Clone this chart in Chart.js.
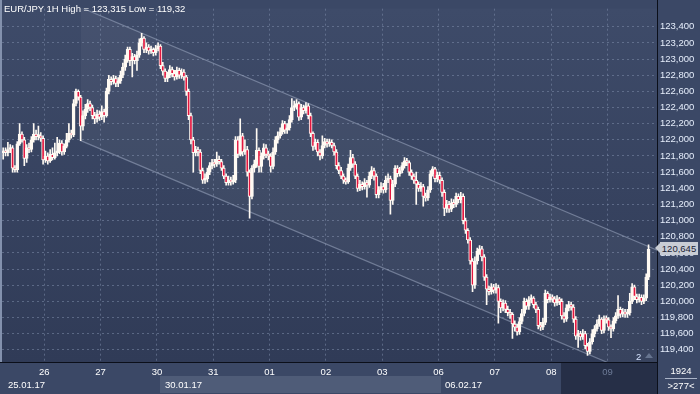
<!DOCTYPE html>
<html><head><meta charset="utf-8">
<script src="https://cdn.jsdelivr.net/npm/chart.js@4.4.0/dist/chart.umd.min.js"></script>
<style>
html,body{margin:0;padding:0;background:#3b4866;}
#wrap{position:relative;width:700px;height:394px;overflow:hidden;font-family:"Liberation Sans",Arial,sans-serif;}
#c{position:absolute;left:0;top:0;}
.t{position:absolute;color:#ffffff;font-size:9.5px;line-height:12px;white-space:nowrap;}
#tag{position:absolute;left:660px;width:38px;height:13px;background:#c9cdd5;color:#1c2336;font-size:9.5px;line-height:13px;text-align:center;}
#tag:before{content:"";position:absolute;left:-5px;top:1px;border-top:5.5px solid transparent;border-bottom:5.5px solid transparent;border-right:5px solid #c9cdd5;}
#tri{position:absolute;left:645px;top:353px;width:0;height:0;border-left:4px solid transparent;border-right:4px solid transparent;border-bottom:5px solid #66748f;}
</style></head><body>
<div id="wrap">
<canvas id="c" width="700" height="394"></canvas>
<div class="t" style="left:4px;top:3px">EUR/JPY 1H High = 123,315 Low = 119,32</div>
<div class="t" id="w0" style="left:8px;top:379px">25.01.17</div>
<div class="t" id="w1" style="left:165px;top:379px">30.01.17</div>
<div class="t" id="w2" style="left:445px;top:379px">06.02.17</div>
<div class="t" style="left:666px;top:365px;width:30px;text-align:center">1924</div>
<div style="position:absolute;left:665px;top:378px;width:32px;height:1px;background:#aab4c8"></div>
<div class="t" style="left:664px;top:380px;width:34px;text-align:center">&gt;277&lt;</div>
<div class="t" style="left:636px;top:351px;color:#d7e4ff">2</div>
<div id="tri"></div>
<div id="tag">120,645</div>
</div>
<script>
const dayTicks = [17.5,41.5,65.5,89.5,113.5,137.5,161.5,185.5,209.5,233.5,257.5];
const dayLabels = ['26','27','30','31','01','02','03','06','07','08','09'];
const yTicks = [119.4,119.6,119.8,120.0,120.2,120.4,120.6,120.8,121.0,121.2,121.4,121.6,121.8,122.0,122.2,122.4,122.6,122.8,123.0,123.2,123.4];
const lastPrice = 120.645;

const open = [
121.84,121.86,121.84,121.88,121.90,121.65,121.63,121.95,122.07,122.00,
121.77,121.90,121.88,122.00,122.07,122.04,122.05,122.02,121.75,121.80,
121.74,121.82,121.78,121.84,121.86,121.96,121.85,121.92,122.00,122.08,
122.06,122.45,122.60,122.53,122.17,122.30,122.38,122.45,122.40,122.30,
122.26,122.32,122.28,122.35,122.30,122.60,122.75,122.72,122.76,122.70,
122.73,122.80,122.90,123.00,123.12,122.98,123.03,122.98,123.05,123.20,
123.26,123.12,123.15,123.10,123.12,123.08,123.13,123.16,122.92,122.85,
122.76,122.80,122.87,122.82,122.78,122.86,122.80,122.84,122.78,122.60,
122.30,122.00,121.84,121.88,121.85,121.62,121.50,121.52,121.60,121.68,
121.72,121.70,121.76,121.73,121.65,121.55,121.47,121.50,121.48,121.50,
122.00,121.82,122.05,121.85,121.88,121.60,121.30,121.65,121.70,121.87,
121.67,121.80,121.90,121.82,121.80,121.67,121.85,122.00,122.05,122.10,
122.20,122.12,122.15,122.25,122.40,122.42,122.45,122.28,122.40,122.36,
122.42,122.30,122.08,121.92,121.97,121.85,121.80,121.93,121.98,121.95,
121.97,121.93,121.85,121.68,121.62,121.55,121.50,121.48,121.65,121.78,
121.70,121.55,121.40,121.45,121.42,121.47,121.44,121.55,121.62,121.55,
121.32,121.38,121.42,121.38,121.50,121.52,121.25,121.45,121.65,121.58,
121.62,121.68,121.74,121.72,121.60,121.55,121.50,121.45,121.40,121.42,
121.30,121.28,121.38,121.58,121.64,121.52,121.56,121.50,121.35,121.15,
121.20,121.14,121.22,121.20,121.30,121.26,121.30,121.00,120.88,120.76,
120.50,120.20,120.50,120.62,120.65,120.55,120.30,120.15,120.12,120.18,
120.14,120.17,120.00,119.92,119.98,119.90,119.86,119.84,119.72,119.68,
119.62,119.75,119.85,120.00,119.94,120.02,120.04,119.96,119.90,119.70,
119.68,119.74,120.10,120.02,120.05,120.03,119.98,120.03,120.00,119.82,
119.78,119.92,119.96,119.93,119.78,119.57,119.60,119.56,119.60,119.45,
119.38,119.50,119.60,119.66,119.72,119.78,119.64,119.78,119.77,119.68,
119.66,119.76,119.82,119.90,119.84,119.87,119.84,119.86,120.00,120.18,
120.06,120.02,120.05,120.00,120.04,120.30];

const high = [
121.90,121.90,121.97,121.94,121.93,121.68,121.98,122.20,122.10,122.03,
121.94,121.96,122.04,122.20,122.12,122.17,122.09,122.05,121.86,121.84,
121.88,121.90,121.96,122.03,122.00,121.99,121.95,122.08,122.20,122.12,
122.50,122.63,122.62,122.55,122.36,122.44,122.50,122.48,122.43,122.34,
122.37,122.36,122.42,122.38,122.64,122.80,122.78,122.80,122.79,122.77,
122.85,122.95,123.05,123.15,123.15,123.07,123.06,123.10,123.25,123.32,
123.28,123.20,123.18,123.16,123.14,123.17,123.20,123.18,122.96,122.88,
122.84,122.92,122.90,122.86,122.90,122.89,122.88,122.87,122.80,122.63,
122.33,122.03,121.92,121.91,121.88,121.65,121.58,121.65,121.72,121.76,
121.76,121.85,121.80,121.76,121.68,121.58,121.55,121.54,121.56,122.04,
122.04,122.26,122.08,122.00,121.92,121.63,121.68,121.75,122.14,121.90,
121.84,121.95,121.94,121.86,121.83,121.90,122.04,122.10,122.15,122.24,
122.23,122.20,122.30,122.51,122.48,122.50,122.47,122.44,122.43,122.46,
122.45,122.33,122.10,122.01,122.00,121.88,122.05,122.02,122.01,122.01,
122.00,121.96,121.88,121.72,121.66,121.58,121.53,121.70,121.87,121.82,
121.73,121.58,121.50,121.48,121.52,121.50,121.60,121.67,121.65,121.58,
121.42,121.47,121.46,121.55,121.58,121.55,121.50,121.68,121.68,121.66,
121.72,121.78,121.77,121.74,121.63,121.58,121.60,121.48,121.47,121.45,
121.34,121.42,121.62,121.67,121.66,121.60,121.60,121.53,121.38,121.25,
121.24,121.27,121.26,121.34,121.33,121.35,121.33,121.03,120.90,120.79,
120.53,120.55,120.66,120.69,120.68,120.58,120.33,120.19,120.22,120.21,
120.22,120.20,120.03,120.02,120.01,119.94,119.90,119.86,119.76,119.72,
119.80,119.90,120.04,120.03,120.06,120.08,120.06,119.99,119.93,119.74,
119.79,120.14,120.12,120.09,120.08,120.06,120.07,120.05,120.03,119.86,
119.96,120.00,119.99,119.96,119.81,119.64,119.63,119.65,119.63,119.48,
119.54,119.65,119.70,119.77,119.83,119.80,119.82,119.82,119.80,119.71,
119.80,119.86,120.07,119.93,119.91,119.90,119.90,120.10,120.22,120.20,
120.09,120.09,120.08,120.08,120.34,120.70];

const low = [
121.76,121.80,121.80,121.84,121.60,121.60,121.60,121.93,121.97,121.68,
121.72,121.84,121.85,121.97,122.00,122.00,121.98,121.70,121.72,121.70,
121.72,121.75,121.76,121.80,121.83,121.81,121.82,121.90,121.97,122.02,
122.04,122.42,122.49,121.99,122.12,122.26,122.34,122.36,122.26,122.20,
122.22,122.24,122.25,122.22,122.28,122.57,122.68,122.69,122.66,122.66,
122.70,122.77,122.86,122.96,122.92,122.78,122.94,122.86,123.02,123.16,
123.08,123.08,123.06,123.07,123.04,123.05,123.10,122.88,122.80,122.72,
122.72,122.77,122.78,122.74,122.75,122.76,122.76,122.74,122.55,122.25,
121.95,121.60,121.80,121.80,121.58,121.46,121.46,121.48,121.57,121.64,
121.66,121.67,121.70,121.62,121.52,121.44,121.44,121.44,121.45,121.47,
121.78,121.80,121.80,121.82,121.55,121.03,121.27,121.60,121.66,121.60,
121.60,121.76,121.78,121.75,121.60,121.64,121.82,121.96,122.02,122.07,
122.08,122.08,122.12,122.22,122.36,122.38,122.24,122.25,122.32,122.33,
122.26,122.04,121.87,121.88,121.80,121.75,121.77,121.90,121.91,121.92,
121.90,121.81,121.64,121.58,121.52,121.46,121.45,121.46,121.62,121.66,
121.52,121.36,121.37,121.38,121.39,121.29,121.41,121.52,121.50,121.28,
121.28,121.35,121.34,121.35,121.47,121.08,121.20,121.42,121.54,121.55,
121.59,121.65,121.68,121.56,121.51,121.46,121.20,121.36,121.36,121.18,
121.24,121.25,121.35,121.55,121.48,121.48,121.46,121.30,121.06,121.10,
121.10,121.11,121.16,121.17,121.22,121.22,120.96,120.84,120.72,120.46,
120.12,120.16,120.46,120.58,120.50,120.26,119.96,120.08,120.09,120.10,
120.10,119.73,119.86,119.88,119.86,119.82,119.79,119.54,119.63,119.58,
119.59,119.72,119.82,119.90,119.90,119.98,119.92,119.86,119.66,119.64,
119.65,119.71,119.98,119.99,119.99,119.94,119.95,119.96,119.78,119.74,
119.75,119.88,119.89,119.74,119.53,119.43,119.52,119.53,119.41,119.33,
119.35,119.47,119.56,119.63,119.69,119.60,119.61,119.73,119.64,119.55,
119.63,119.73,119.79,119.80,119.81,119.80,119.80,119.83,119.97,120.02,
119.98,119.99,119.96,119.97,120.01,120.27];

const close = [
121.86,121.84,121.88,121.90,121.65,121.63,121.95,122.07,122.00,121.77,
121.90,121.88,122.00,122.07,122.04,122.05,122.02,121.75,121.80,121.74,
121.82,121.78,121.84,121.86,121.96,121.85,121.92,122.00,122.08,122.06,
122.45,122.60,122.53,122.17,122.30,122.38,122.45,122.40,122.30,122.26,
122.32,122.28,122.35,122.30,122.60,122.75,122.72,122.76,122.70,122.73,
122.80,122.90,123.00,123.12,122.98,123.03,122.98,123.05,123.20,123.26,
123.12,123.15,123.10,123.12,123.08,123.13,123.16,122.92,122.85,122.76,
122.80,122.87,122.82,122.78,122.86,122.80,122.84,122.78,122.60,122.30,
122.00,121.84,121.88,121.85,121.62,121.50,121.52,121.60,121.68,121.72,
121.70,121.76,121.73,121.65,121.55,121.47,121.50,121.48,121.50,122.00,
121.82,122.05,121.85,121.88,121.60,121.30,121.65,121.70,121.87,121.67,
121.80,121.90,121.82,121.80,121.67,121.85,122.00,122.05,122.10,122.20,
122.12,122.15,122.25,122.40,122.42,122.45,122.28,122.40,122.36,122.42,
122.30,122.08,121.92,121.97,121.85,121.80,121.93,121.98,121.95,121.97,
121.93,121.85,121.68,121.62,121.55,121.50,121.48,121.65,121.78,121.70,
121.55,121.40,121.45,121.42,121.47,121.44,121.55,121.62,121.55,121.32,
121.38,121.42,121.38,121.50,121.52,121.25,121.45,121.65,121.58,121.62,
121.68,121.74,121.72,121.60,121.55,121.50,121.45,121.40,121.42,121.30,
121.28,121.38,121.58,121.64,121.52,121.56,121.50,121.35,121.15,121.20,
121.14,121.22,121.20,121.30,121.26,121.30,121.00,120.88,120.76,120.50,
120.20,120.50,120.62,120.65,120.55,120.30,120.15,120.12,120.18,120.14,
120.17,120.00,119.92,119.98,119.90,119.86,119.84,119.72,119.68,119.62,
119.75,119.85,120.00,119.94,120.02,120.04,119.96,119.90,119.70,119.68,
119.74,120.10,120.02,120.05,120.03,119.98,120.03,120.00,119.82,119.78,
119.92,119.96,119.93,119.78,119.57,119.60,119.56,119.60,119.45,119.38,
119.50,119.60,119.66,119.72,119.78,119.64,119.78,119.77,119.68,119.66,
119.76,119.82,119.90,119.84,119.87,119.84,119.86,120.00,120.18,120.06,
120.02,120.05,120.00,120.04,120.30,120.645];

// channel (trend lines) anchored at candle index 33
const channelX = [33, 279];
const channelHigh = [123.64, 120.63];
const channelLow = [121.99, 118.98];

const WHITE = '#fffaf3', RED = '#e3163f';
Chart.defaults.font.family = '"Liberation Sans", Arial, sans-serif';
Chart.defaults.font.size = 9.5;

const bgPlugin = {
  id: 'bg',
  beforeDraw(chart) {
    const {ctx, chartArea: a} = chart;
    ctx.save();
    ctx.fillStyle = '#3b4866';
    ctx.fillRect(0, 0, chart.width, chart.height);
    const g = ctx.createLinearGradient(0, a.top, 0, a.bottom);
    g.addColorStop(0, '#3e4b69');
    g.addColorStop(1, '#303b57');
    ctx.fillStyle = g;
    ctx.fillRect(a.left, a.top, a.right - a.left, a.bottom - a.top);
    ctx.fillStyle = '#8391ad';
    ctx.fillRect(0, 0, 2, a.bottom);
    const xs = chart.scales.x;
    const x1 = Math.round(xs.getPixelForValue(dayTicks[2])) + 3;
    const x2 = Math.round(xs.getPixelForValue(dayTicks[7])) + 2;
    ctx.fillStyle = '#4f5c78';
    ctx.fillRect(x1, 376, x2 - x1, 17);
    ctx.fillStyle = '#262f47';
    ctx.fillRect(561, a.bottom, a.right - 561, chart.height - a.bottom);
    ctx.restore();
  },
  afterDraw(chart) {
    const {ctx, chartArea: a} = chart;
    ctx.save();
    ctx.fillStyle = '#0b0f1a';
    ctx.fillRect(a.right, 0, 1, chart.height);
    ctx.fillRect(0, a.bottom, a.right, 1);
    ctx.restore();
  }
};

const ctx = document.getElementById('c');
const chart = new Chart(ctx, {
  type: 'bar',
  data: {
    datasets: [
      {
        type: 'line', order: 4,
        data: channelX.map((x, k) => ({x, y: channelHigh[k]})),
        borderColor: 'rgba(168,180,204,0.5)', borderWidth: 1.2, pointRadius: 0,
        fill: '+1', backgroundColor: 'rgba(255,255,255,0.045)'
      },
      {
        type: 'line', order: 3,
        data: channelX.map((x, k) => ({x, y: channelLow[k]})),
        borderColor: 'rgba(168,180,204,0.5)', borderWidth: 1.2, pointRadius: 0, fill: false
      },
      {
        order: 2, grouped: false,
        data: open.map((o, i) => ({x: i, y: [low[i], high[i]]})),
        backgroundColor: WHITE, borderWidth: 0, barThickness: 1
      },
      {
        order: 1, grouped: false,
        data: open.map((o, i) => ({x: i, y: [o, close[i]]})),
        backgroundColor: open.map((o, i) => close[i] < o ? RED : WHITE),
        borderColor: WHITE, borderWidth: 1, borderSkipped: false,
        barThickness: 3, minBarLength: 2
      }
    ]
  },
  options: {
    responsive: false, animation: false, devicePixelRatio: 1,
    layout: {padding: {left: 2, right: 0, top: 0, bottom: 0}},
    plugins: {legend: {display: false}, tooltip: {enabled: false}, title: {display: false}},
    scales: {
      x: {
        type: 'linear', min: -0.512, max: 278.6, position: 'bottom', offset: false,
        afterFit(s) { s.height = 32; },
        afterBuildTicks(s) { s.ticks = dayTicks.map(v => ({value: v})); },
        grid: {color: 'rgba(125,140,170,0.55)', drawTicks: false, lineWidth: 1, offset: false},
        border: {display: false, dash: [2, 3]},
        ticks: {
          autoSkip: false, maxRotation: 0, padding: 5,
          color: (c) => c.index === 10 ? '#6d7b97' : '#ffffff',
          callback: (v, i) => dayLabels[i]
        }
      },
      y: {
        type: 'linear', position: 'right', min: 119.249, max: 123.624,
        afterFit(s) { s.width = 43; },
        afterBuildTicks(s) { s.ticks = yTicks.map(v => ({value: v})); },
        grid: {color: 'rgba(125,140,170,0.55)', drawTicks: false, lineWidth: 1},
        border: {display: false, dash: [2, 3]},
        ticks: {
          padding: 3, color: '#e6eefc',
          callback: (v) => v.toFixed(3).replace('.', ',')
        }
      }
    }
  },
  plugins: [bgPlugin]
});

const py = chart.scales.y.getPixelForValue(lastPrice);
document.getElementById('tag').style.top = (py - 7) + 'px';
</script>
</body></html>
